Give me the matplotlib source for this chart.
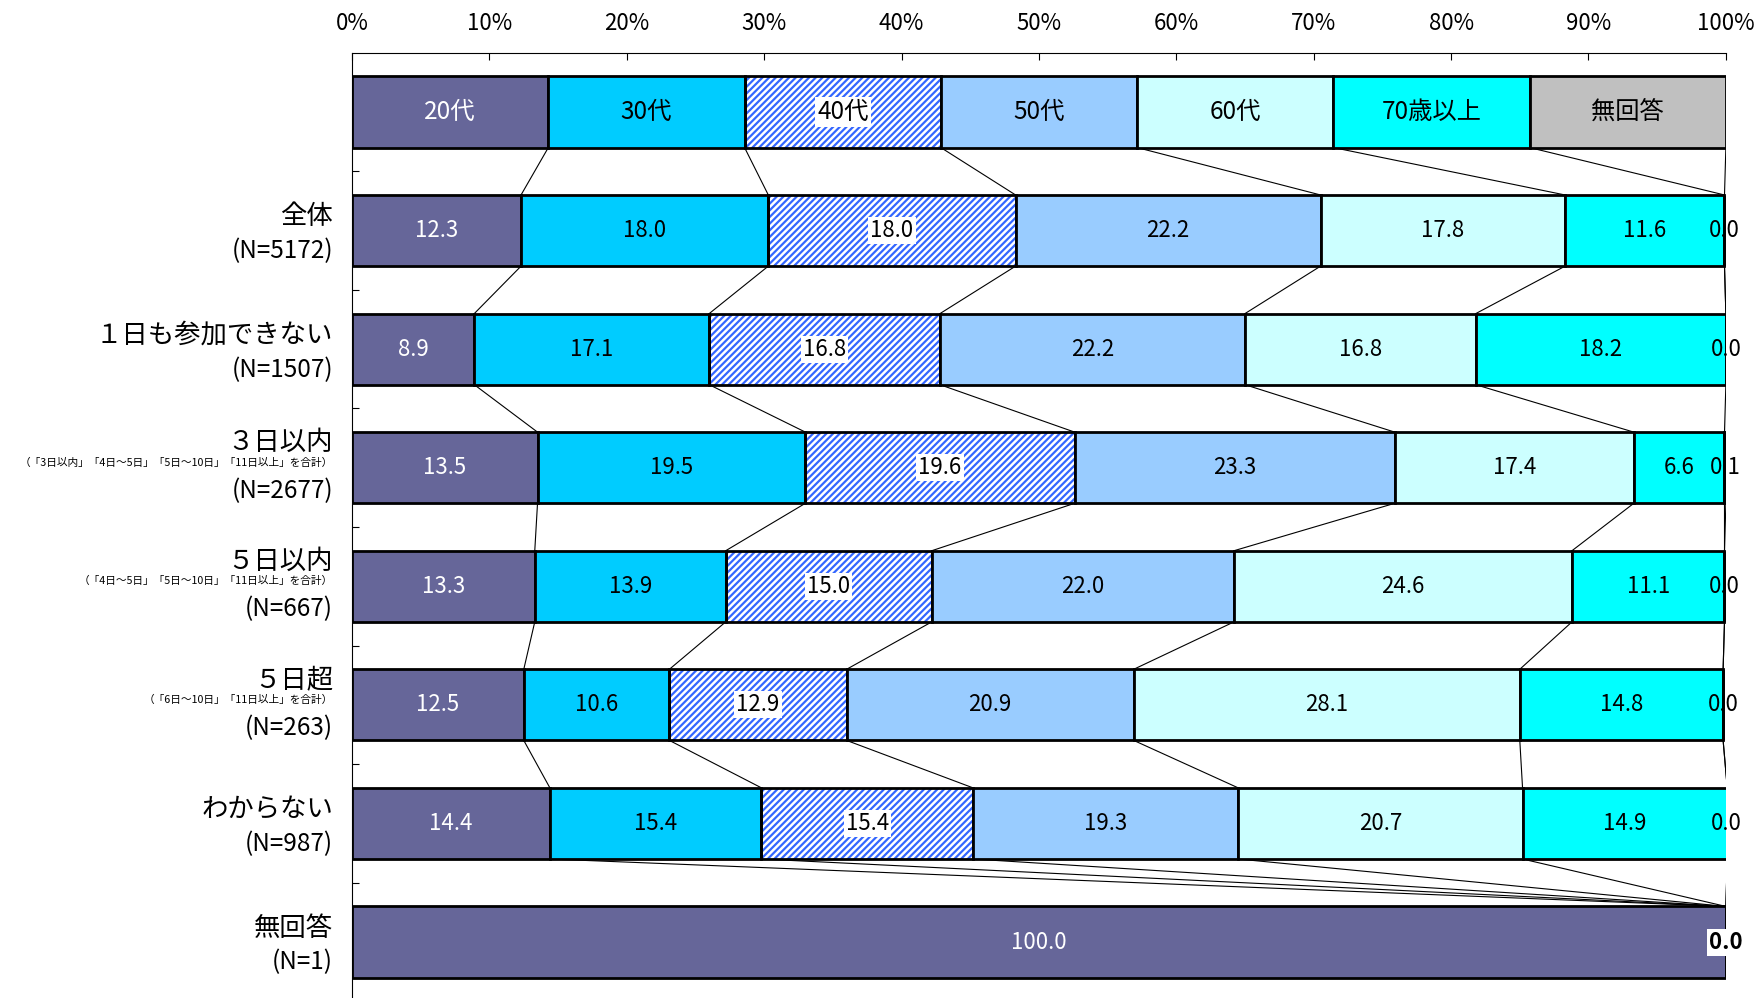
import matplotlib
matplotlib.use("Agg")
import matplotlib.pyplot as plt
import numpy as np

plt.rcParams['font.family'] = ['Noto Sans CJK JP', 'DejaVu Sans']
plt.rcParams['hatch.linewidth'] = 1.6

# age groups (segments of each bar)
categories = ['20代', '30代', '40代', '50代', '60代', '70歳以上', '無回答']

# respondent groups (rows)
row_names = ['全体', '１日も参加できない', '３日以内', '５日以内', '５日超', 'わからない', '無回答']
row_notes = ['', '',
             '（「3日以内」「4日～5日」「5日～10日」「11日以上」を合計）',
             '（「4日～5日」「5日～10日」「11日以上」を合計）',
             '（「6日～10日」「11日以上」を合計）',
             '', '']
row_n = [5172, 1507, 2677, 667, 263, 987, 1]

# shares (%) per age group, one value per row
age20 = [12.3, 8.9, 13.5, 13.3, 12.5, 14.4, 100.0]
age30 = [18.0, 17.1, 19.5, 13.9, 10.6, 15.4, 0.0]
age40 = [18.0, 16.8, 19.6, 15.0, 12.9, 15.4, 0.0]
age50 = [22.2, 22.2, 23.3, 22.0, 20.9, 19.3, 0.0]
age60 = [17.8, 16.8, 17.4, 24.6, 28.1, 20.7, 0.0]
age70 = [11.6, 18.2, 6.6, 11.1, 14.8, 14.9, 0.0]
no_answer = [0.0, 0.0, 0.1, 0.0, 0.0, 0.0, 0.0]

colors = ['#666699', '#00CCFF', 'white', '#99CCFF', '#CCFFFF', '#00FFFF', '#C0C0C0']
hatch_color = '#3366FF'
text_colors = ['white', 'black', 'black', 'black', 'black', 'black', 'black']

series = np.array([age20, age30, age40, age50, age60, age70, no_answer])  # (cat, row)
n_rows = len(row_names)
bar_h = 0.6

# row 0 is the key bar with equal-width segments; data rows follow
key_widths = np.full(len(categories), 100 / len(categories))
widths = np.vstack([key_widths[:, None].T, series.T])  # (row+1, cat)
lefts = np.hstack([np.zeros((widths.shape[0], 1)), np.cumsum(widths, axis=1)[:, :-1]])
rights = lefts + widths
ys = np.arange(widths.shape[0])

fig = plt.figure(figsize=(17.55, 9.98), dpi=100)
ax = fig.add_axes([0.2006, -0.0033, 0.9834 - 0.2006, 0.9505])

for k, cat in enumerate(categories):
    if k == 2:
        ax.barh(ys, widths[:, k], left=lefts[:, k], height=bar_h, color='white',
                hatch='/////', edgecolor=hatch_color, linewidth=0, zorder=2)
        ax.barh(ys, widths[:, k], left=lefts[:, k], height=bar_h, fill=False,
                edgecolor='black', linewidth=2, zorder=3)
    else:
        ax.barh(ys, widths[:, k], left=lefts[:, k], height=bar_h, color=colors[k],
                edgecolor='black', linewidth=2, zorder=3)

# connector lines between segment boundaries of neighbouring bars
for i in range(len(ys) - 1):
    for k in range(len(categories)):
        ax.plot([rights[i, k], rights[i + 1, k]],
                [ys[i] + bar_h / 2, ys[i + 1] - bar_h / 2],
                color='black', linewidth=0.8, zorder=1)

# key bar labels
for k, cat in enumerate(categories):
    x = lefts[0, k] + widths[0, k] / 2
    bbox = dict(fc='white', ec='none', pad=1.5) if k == 2 else None
    ax.text(x, ys[0], cat, ha='center', va='center', fontsize=17.5,
            color=text_colors[k], bbox=bbox, zorder=5)

# value labels
for r in range(n_rows):
    y = ys[r + 1]
    for k in range(len(categories)):
        v = series[k, r]
        last = k == len(categories) - 1
        if v == 0 and not last:
            continue
        x = min(lefts[r + 1, k] + widths[r + 1, k] / 2, 100)
        bbox = dict(fc='white', ec='none', pad=1.5) if k == 2 else None
        weight = 'normal'
        if last and r == n_rows - 1:
            bbox = dict(fc='white', ec='none', pad=1.5)
            weight = 'bold'
        ax.text(x, y, f'{v:.1f}', ha='center', va='center', fontsize=16,
                color=text_colors[k], bbox=bbox, fontweight=weight, zorder=5)

# row labels on the left
ytrans = ax.get_yaxis_transform()
for r in range(n_rows):
    y = ys[r + 1]
    if row_notes[r]:
        items = [(row_names[r], 25, 19), (row_notes[r], 5, 7.7), (f'(N={row_n[r]})', -23, 17.5)]
    else:
        items = [(row_names[r], 14, 19), (f'(N={row_n[r]})', -20.5, 17.5)]
    for txt, dy, fs in items:
        ax.annotate(txt, xy=(0, y), xycoords=ytrans, xytext=(-19, dy),
                    textcoords='offset pixels', ha='right', va='center',
                    fontsize=fs, annotation_clip=False)

ax.set_xlim(0, 100)
ax.set_ylim(len(ys) - 0.5, -0.5)
ax.xaxis.tick_top()
ax.set_xticks(np.arange(0, 101, 10))
ax.set_xticklabels([f'{t}%' for t in range(0, 101, 10)], fontsize=16)
ax.tick_params(axis='x', direction='in', length=5, pad=13, width=0.8)
ax.set_yticks(np.arange(0.5, len(ys), 1.0))
ax.set_yticklabels([])
ax.tick_params(axis='y', direction='in', length=5, width=0.8)
for side in ('right', 'bottom'):
    ax.spines[side].set_visible(False)
for side in ('top', 'left'):
    ax.spines[side].set_linewidth(0.8)

fig.savefig('out.png', dpi=100)
